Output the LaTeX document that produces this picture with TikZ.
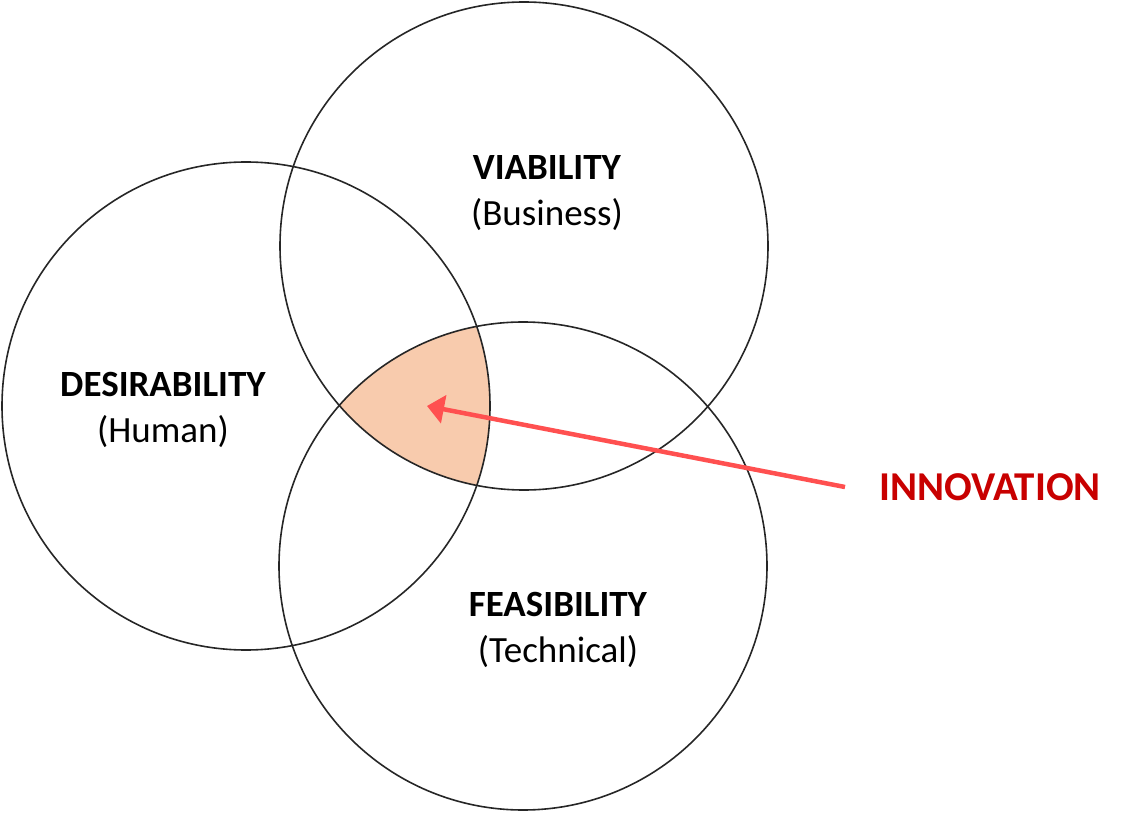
\documentclass[tikz,border=0pt]{standalone}
\usepackage{fontspec}
\setmainfont{Carlito}
\usetikzlibrary{arrows.meta}
\definecolor{ringline}{HTML}{262626}
\definecolor{overlap}{HTML}{F8CBAD}
\definecolor{arrowred}{HTML}{FF5050}
\definecolor{innovred}{HTML}{C80000}
\begin{document}
\begin{tikzpicture}[x=1pt,y=-1pt,
  ring/.style={circle,draw=ringline,line width=1.6pt,minimum size=488pt,inner sep=0pt},
  lbl/.style={align=center,font=\fontsize{37}{46}\selectfont,text=black,inner sep=0pt},
  pointer/.style={draw=arrowred,line width=4.5pt,-{Triangle[length=17pt,width=28pt]}}]
\useasboundingbox (0,0) rectangle (1128,813);
\begin{scope}
  \clip (246,406) circle (244pt);
  \clip (524,246) circle (244pt);
  \fill[overlap] (523,566) circle (244pt);
\end{scope}
\node[ring] (des) at (246,406) {};
\node[ring] (via) at (524,246) {};
\node[ring] (fea) at (523,566) {};
\node[lbl] (vial) at (547,193) {\textbf{VIABILITY}\\(Business)};
\node[lbl] (desl) at (163,410) {\textbf{DESIRABILITY}\\(Human)};
\node[lbl] (feal) at (558,630) {\textbf{FEASIBILITY}\\(Technical)};
\node[font=\fontsize{41}{46}\selectfont\bfseries,text=innovred,inner sep=0pt,anchor=west] (innov) at (879,487) {INNOVATION};
\coordinate (tip) at (427,406);
\draw[pointer] (845,487) -- (tip);
\end{tikzpicture}
\end{document}
